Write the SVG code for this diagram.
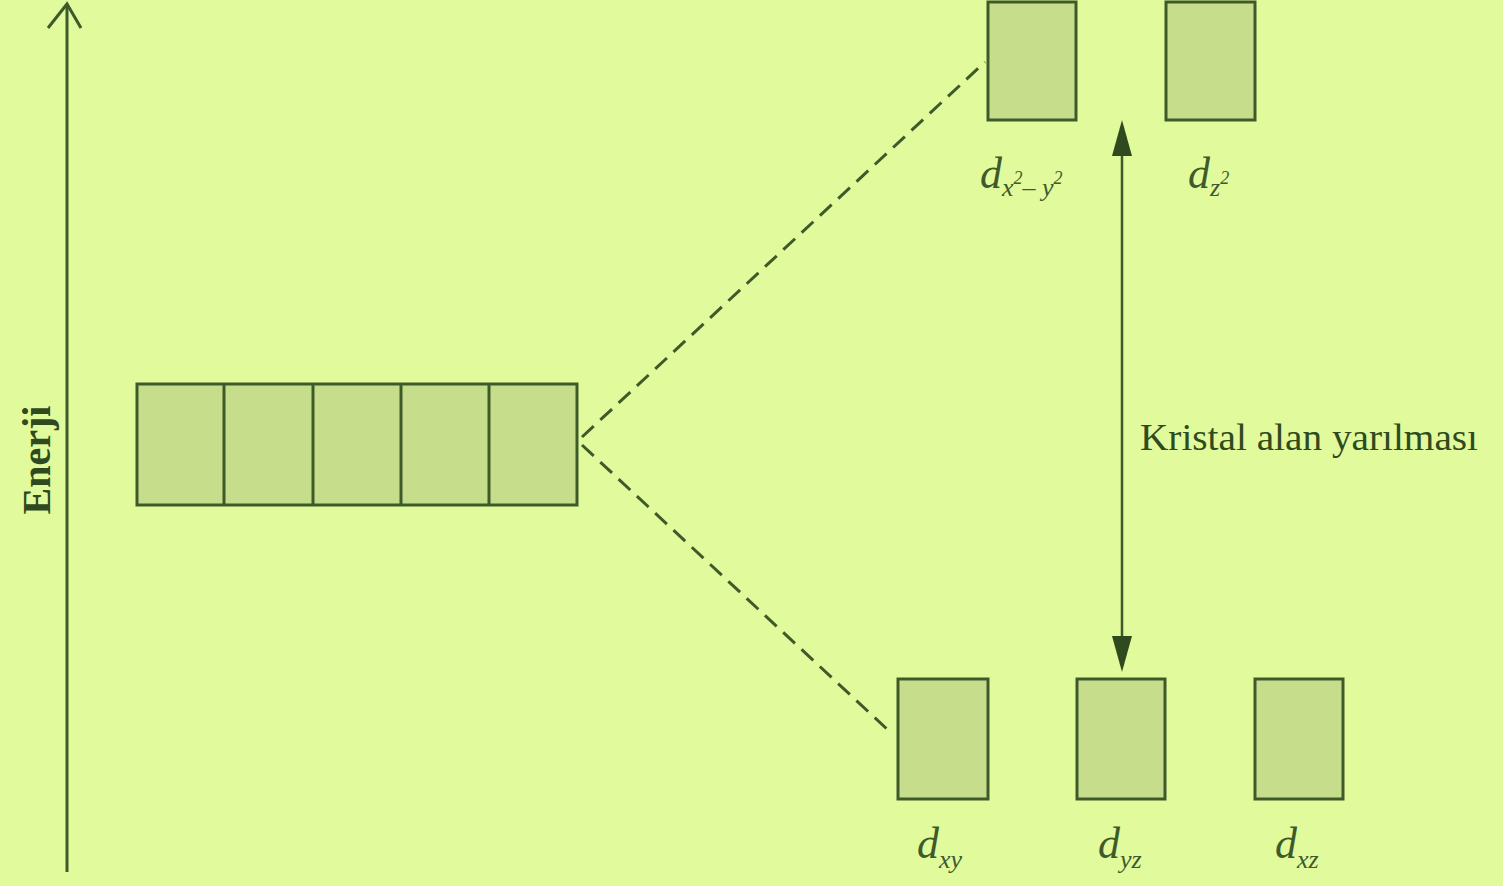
<svg xmlns="http://www.w3.org/2000/svg" width="1503" height="886" viewBox="0 0 1503 886">
<defs>
<style>
.box{fill:#c6de8c;stroke:#3f5a2a;stroke-width:3}
.ln{stroke:#3f5a2a;stroke-width:3;fill:none}
.dash{stroke:#3f5a2a;stroke-width:3;fill:none;stroke-dasharray:16 9}
.lbl{font-family:"Liberation Serif",serif;font-style:italic;fill:#3f5a2a}
.d{font-size:44px}
.sub{font-size:26px}
.sup{font-size:18px}
.txt{font-family:"Liberation Serif",serif;fill:#2f4a1e}
</style>
</defs>
<rect x="0" y="0" width="1503" height="886" fill="#e0fa9c"/>

<g id="energy-axis">
<line class="ln" x1="67" y1="872" x2="67" y2="4"/>
<polyline class="ln" points="48,28 67,4 81,28"/>
<text class="txt" transform="translate(50,460) rotate(-90)" text-anchor="middle" font-size="40" font-weight="bold">Enerji</text>
</g>

<g id="degenerate-d">
<rect class="box" x="137" y="384" width="440" height="121"/>
<line class="ln" x1="224" y1="384" x2="224" y2="505"/>
<line class="ln" x1="313" y1="384" x2="313" y2="505"/>
<line class="ln" x1="401" y1="384" x2="401" y2="505"/>
<line class="ln" x1="489" y1="384" x2="489" y2="505"/>
</g>

<g id="connectors">
<line class="dash" x1="582" y1="437" x2="985" y2="62"/>
<line class="dash" x1="582" y1="445" x2="888" y2="730"/>
<line class="ln" x1="1122" y1="140" x2="1122" y2="655" style="stroke-width:2.5"/>
<path d="M1122,120 L1112,156 L1132,156 z" fill="#2f4a1e"/>
<path d="M1122,672 L1112,636 L1132,636 z" fill="#2f4a1e"/>
</g>

<g id="dx2y2">
<rect class="box" x="988" y="2" width="88" height="118"/>
<text class="lbl" x="980" y="188"><tspan class="d">d</tspan><tspan class="sub" dy="8">x</tspan><tspan class="sup" dy="-12">2</tspan><tspan class="sub" dy="12">– y</tspan><tspan class="sup" dy="-12">2</tspan></text>
</g>

<g id="dz2">
<rect class="box" x="1166" y="2" width="89" height="118"/>
<text class="lbl" x="1188" y="188"><tspan class="d">d</tspan><tspan class="sub" dy="8">z</tspan><tspan class="sup" dy="-12">2</tspan></text>
</g>

<g id="dxy">
<rect class="box" x="898" y="679" width="90" height="120"/>
<text class="lbl" x="917" y="858"><tspan class="d">d</tspan><tspan class="sub" dy="10">xy</tspan></text>
</g>

<g id="dyz">
<rect class="box" x="1077" y="679" width="88" height="120"/>
<text class="lbl" x="1098" y="858"><tspan class="d">d</tspan><tspan class="sub" dy="10">yz</tspan></text>
</g>

<g id="dxz">
<rect class="box" x="1255" y="679" width="88" height="120"/>
<text class="lbl" x="1275" y="858"><tspan class="d">d</tspan><tspan class="sub" dy="10">xz</tspan></text>
</g>

<g id="splitting-label">
<text class="txt" x="1140" y="450" font-size="38" textLength="338" lengthAdjust="spacingAndGlyphs">Kristal alan yarılması</text>
</g>
</svg>
